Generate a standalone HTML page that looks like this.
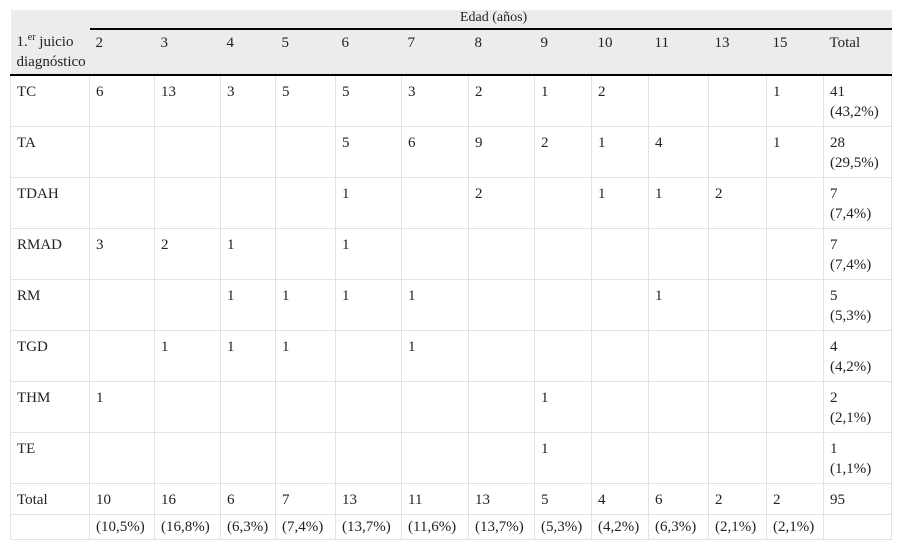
<!DOCTYPE html>
<html><head><meta charset="utf-8"><style>
body{margin:0;background:#fff;}
table{position:absolute;left:10px;top:10px;border-collapse:collapse;table-layout:fixed;width:881px;font-family:"Liberation Serif",serif;font-size:15px;color:#222;}
td{vertical-align:top;padding:6px 0 0 6px;line-height:20px;border:1px solid #e2e2e2;white-space:nowrap;overflow:hidden;box-sizing:border-box;}
thead td{background:#ececec;border:none;padding-top:0;}
tr.h1 td{height:19px;line-height:16px;font-size:14px;}
tr.h1 td.ed{text-align:center;border-bottom:2px solid #000;}
tr.h2 td{height:46px;border-bottom:2px solid #000;padding-top:3px;}
tr.d td{height:51px;}
tr.t td{height:31px;}
tr.p td{height:25px;padding-top:2px;}
sup{font-size:10px;line-height:0;}
</style></head><body>
<table>
<colgroup><col style="width:79px"><col style="width:65px"><col style="width:66px"><col style="width:55px"><col style="width:60px"><col style="width:66px"><col style="width:67px"><col style="width:66px"><col style="width:57px"><col style="width:57px"><col style="width:60px"><col style="width:58px"><col style="width:57px"><col style="width:68px"></colgroup>
<thead>
<tr class="h1"><td></td><td class="ed" colspan="13">Edad (años)</td></tr>
<tr class="h2"><td>1.<sup>er</sup> juicio<br>diagnóstico</td><td>2</td><td>3</td><td>4</td><td>5</td><td>6</td><td>7</td><td>8</td><td>9</td><td>10</td><td>11</td><td>13</td><td>15</td><td>Total</td></tr>
</thead>
<tbody>
<tr class="d"><td>TC</td><td>6</td><td>13</td><td>3</td><td>5</td><td>5</td><td>3</td><td>2</td><td>1</td><td>2</td><td></td><td></td><td>1</td><td>41<br>(43,2%)</td></tr>
<tr class="d"><td>TA</td><td></td><td></td><td></td><td></td><td>5</td><td>6</td><td>9</td><td>2</td><td>1</td><td>4</td><td></td><td>1</td><td>28<br>(29,5%)</td></tr>
<tr class="d"><td>TDAH</td><td></td><td></td><td></td><td></td><td>1</td><td></td><td>2</td><td></td><td>1</td><td>1</td><td>2</td><td></td><td>7<br>(7,4%)</td></tr>
<tr class="d"><td>RMAD</td><td>3</td><td>2</td><td>1</td><td></td><td>1</td><td></td><td></td><td></td><td></td><td></td><td></td><td></td><td>7<br>(7,4%)</td></tr>
<tr class="d"><td>RM</td><td></td><td></td><td>1</td><td>1</td><td>1</td><td>1</td><td></td><td></td><td></td><td>1</td><td></td><td></td><td>5<br>(5,3%)</td></tr>
<tr class="d"><td>TGD</td><td></td><td>1</td><td>1</td><td>1</td><td></td><td>1</td><td></td><td></td><td></td><td></td><td></td><td></td><td>4<br>(4,2%)</td></tr>
<tr class="d"><td>THM</td><td>1</td><td></td><td></td><td></td><td></td><td></td><td></td><td>1</td><td></td><td></td><td></td><td></td><td>2<br>(2,1%)</td></tr>
<tr class="d"><td>TE</td><td></td><td></td><td></td><td></td><td></td><td></td><td></td><td>1</td><td></td><td></td><td></td><td></td><td>1<br>(1,1%)</td></tr>
<tr class="t"><td>Total</td><td>10</td><td>16</td><td>6</td><td>7</td><td>13</td><td>11</td><td>13</td><td>5</td><td>4</td><td>6</td><td>2</td><td>2</td><td>95</td></tr>
<tr class="p"><td></td><td>(10,5%)</td><td>(16,8%)</td><td>(6,3%)</td><td>(7,4%)</td><td>(13,7%)</td><td>(11,6%)</td><td>(13,7%)</td><td>(5,3%)</td><td>(4,2%)</td><td>(6,3%)</td><td>(2,1%)</td><td>(2,1%)</td><td></td></tr>
</tbody></table>
</body></html>
